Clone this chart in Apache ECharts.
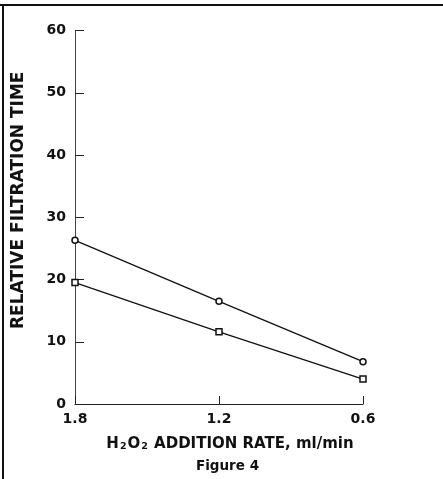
<!DOCTYPE html>
<html>
<head>
<meta charset="utf-8">
<script src="https://cdn.jsdelivr.net/npm/echarts@6/dist/echarts.min.js"></script>
<style>
html,body{margin:0;padding:0;background:#fff;}
#chart{width:443px;height:479px;}
</style>
</head>
<body>
<div id="chart"></div>
<script>
/*H2O2 addition rate, ml/min*/
var rates = [1.8, 1.2, 0.6];
/*circle series*/
var circleTimes = [26.3, 16.5, 6.8];
/*square series*/
var squareTimes = [19.5, 11.6, 4.0];
var yTicks = [0, 10, 20, 30, 40, 50, 60];

var FONT = 'DejaVu Sans';

function pairs(xs, ys){
	var out = [];
	for (var i = 0; i < xs.length; i++) {
		out.push([xs[i], ys[i]]);
	}
	return out;
}

var chart = echarts.init(document.getElementById('chart'));
var option = {
	backgroundColor : '#fff',
	animation : false,
	title : {
		text : 'Figure 4',
		left : 191,
		top : 454,
		textStyle : { fontFamily : FONT, fontWeight : 'bold', fontSize : 13.5, color : '#111' }
	},
	grid : {
		left : 75,
		right : 80,
		top : 30.5,
		bottom : 75,
		containLabel : false,
		outerBoundsMode : 'none'
	},
	xAxis : {
		type : 'value',
		inverse : true,
		min : 0.6,
		max : 1.8,
		interval : 0.6,
		axisLine : { lineStyle : { color : '#222', width : 1.2 } },
		axisTick : { inside : true, length : 8, lineStyle : { color : '#222' } },
		splitLine : { show : false },
		axisLabel : {
			margin : 8,
			fontFamily : FONT,
			fontWeight : 'bold',
			fontSize : 14,
			color : '#111',
			formatter : function(v){ return v.toFixed(1); }
		},
		name : '{b|H}{s|2}{b|O}{s|2}{b| ADDITION RATE, ml/min}',
		nameLocation : 'middle',
		nameGap : 33,
		nameTextStyle : {
			padding : [0, 0, 0, 22],
			rich : {
				b : { fontFamily : FONT, fontWeight : 'bold', fontSize : 15, color : '#111' },
				s : { fontFamily : FONT, fontWeight : 'bold', fontSize : 9.5, color : '#111', verticalAlign : 'bottom', padding : [5, 1, 0, 1] }
			}
		}
	},
	yAxis : {
		type : 'value',
		min : yTicks[0],
		max : yTicks[yTicks.length - 1],
		interval : 10,
		axisLine : { show : true, lineStyle : { color : '#444', width : 1 } },
		axisTick : { show : true, inside : true, length : 9, lineStyle : { color : '#222' } },
		splitLine : { show : false },
		axisLabel : {
			margin : 9,
			fontFamily : FONT,
			fontWeight : 'bold',
			fontSize : 14,
			color : '#111'
		},
		name : 'RELATIVE FILTRATION TIME',
		nameLocation : 'middle',
		nameGap : 48,
		nameTextStyle : {
			fontFamily : FONT,
			fontWeight : 'bold',
			fontSize : 17,
			color : '#111',
			padding : [0, 0, 0, 34]
		}
	},
	series : [ {
		name : 'circle',
		type : 'line',
		data : pairs(rates, circleTimes),
		symbol : 'circle',
		symbolSize : 6,
		lineStyle : { color : '#111', width : 1.3 },
		itemStyle : { color : '#fff', borderColor : '#111', borderWidth : 1.5 }
	}, {
		name : 'square',
		type : 'line',
		data : pairs(rates, squareTimes),
		symbol : 'rect',
		symbolSize : 6,
		lineStyle : { color : '#111', width : 1.3 },
		itemStyle : { color : '#fff', borderColor : '#111', borderWidth : 1.5 }
	} ],
	graphic : [ {
		/*frame top*/
		type : 'line',
		shape : { x1 : 0, y1 : 5, x2 : 443, y2 : 5 },
		style : { stroke : '#111', lineWidth : 2 }
	}, {
		/*frame left*/
		type : 'line',
		shape : { x1 : 3, y1 : 5, x2 : 3, y2 : 479 },
		style : { stroke : '#111', lineWidth : 2 }
	} ]
};
chart.setOption(option);
</script>
</body>
</html>
